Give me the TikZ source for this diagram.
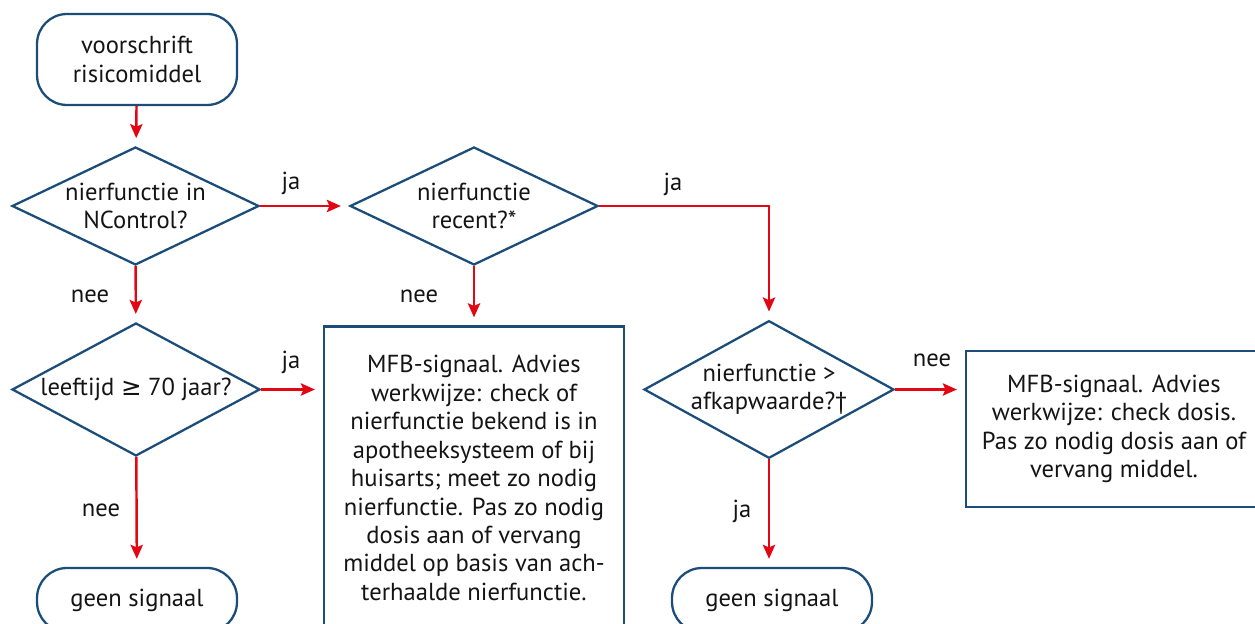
\documentclass[tikz,border=0pt]{standalone}
\usepackage{fontspec}
\setmainfont{PT Sans}
\newfontfamily\symfont{DejaVu Sans}
\usepackage{xcolor}
\usetikzlibrary{shapes.geometric,arrows.meta}
\definecolor{kader}{HTML}{1B4D78}
\definecolor{pijlrood}{HTML}{E30613}
\definecolor{tekst}{HTML}{141414}
\begin{document}
\begin{tikzpicture}[x=0.02cm, y=-0.02cm, >={Stealth[length=8pt,width=7pt,inset=1.5pt]}, font=\fontsize{14}{16.2}\selectfont, text=tekst]
  \tikzstyle{eind}=[rectangle, draw=kader, line width=1.3pt, rounded corners=0.6cm, align=center, minimum width=4cm]
  \tikzstyle{keuze}=[diamond, draw=kader, line width=1.3pt, align=center, inner sep=0pt, aspect=2.1]
  \tikzstyle{blok}=[rectangle, draw=kader, line width=1.3pt, align=center]
  \tikzstyle{pijl}=[->, draw=pijlrood, line width=1.4pt, shorten >=0.16cm]
  \useasboundingbox (0,0) rectangle (1255,624);
  \clip (0,0) rectangle (1255,624);
  \node[eind, minimum height=1.82cm] (start) at (137,59.5) {voorschrift\\risicomiddel};
  \node[keuze, minimum width=4.94cm, minimum height=2.36cm] (inNC) at (135.5,206) {nierfunctie in\\NControl?};
  \node[keuze, minimum width=4.96cm, minimum height=2.36cm] (recent) at (474,206) {nierfunctie\\recent?*};
  \node[keuze, minimum width=4.96cm, minimum height=2.66cm] (leeftijd) at (136,389.5) {leeftijd {\symfont ≥} 70 jaar?};
  \node[keuze, aspect=1.8, minimum width=5cm, minimum height=2.66cm] (afkap) at (769,389.5) {nierfunctie >\\afkapwaarde?†};
  \node[blok, minimum width=6cm, minimum height=6.06cm] (advies1) at (474,478) {MFB-signaal. Advies\\werkwijze: check of\\nierfunctie bekend is in\\apotheeksysteem of bij\\huisarts; meet zo nodig\\nierfunctie. Pas zo nodig\\dosis aan of vervang\\middel op basis van ach-\\terhaalde nierfunctie.};
  \node[blok, minimum width=5.92cm, minimum height=3.12cm] (advies2) at (1114,429) {MFB-signaal. Advies\\werkwijze: check dosis.\\Pas zo nodig dosis aan of\\vervang middel.};
  \node[eind, minimum height=1.28cm] (geen1) at (137,600) {geen signaal};
  \node[eind, minimum height=1.28cm] (geen2) at (772,600) {geen signaal};
  % labels
  \node (ja1) at (291,183) {ja};
  \node (ja2) at (673,184) {ja};
  \node (ja3) at (291,362) {ja};
  \node (ja4) at (742,511) {ja};
  \node (nee1) at (90,296) {nee};
  \node (nee2) at (419,296) {nee};
  \node (nee3) at (932,360) {nee};
  \node (nee4) at (101,510) {nee};
  % pijlen
  \draw[pijl] (start) -- (inNC);
  \draw[pijl] (inNC.east) -- (recent.west);
  \draw[pijl] (inNC) -- (leeftijd);
  \draw[pijl] (recent.south) -- (advies1.north);
  \draw[pijl] (recent.east) -| (afkap.north);
  \draw[pijl] (leeftijd.east) -- (advies1.west |- leeftijd.east);
  \draw[pijl] (leeftijd) -- (geen1);
  \draw[pijl] (afkap.east) -- (advies2.west |- afkap.east);
  \draw[pijl] (afkap.south) -- (geen2.north -| afkap.south);
\end{tikzpicture}
\end{document}
